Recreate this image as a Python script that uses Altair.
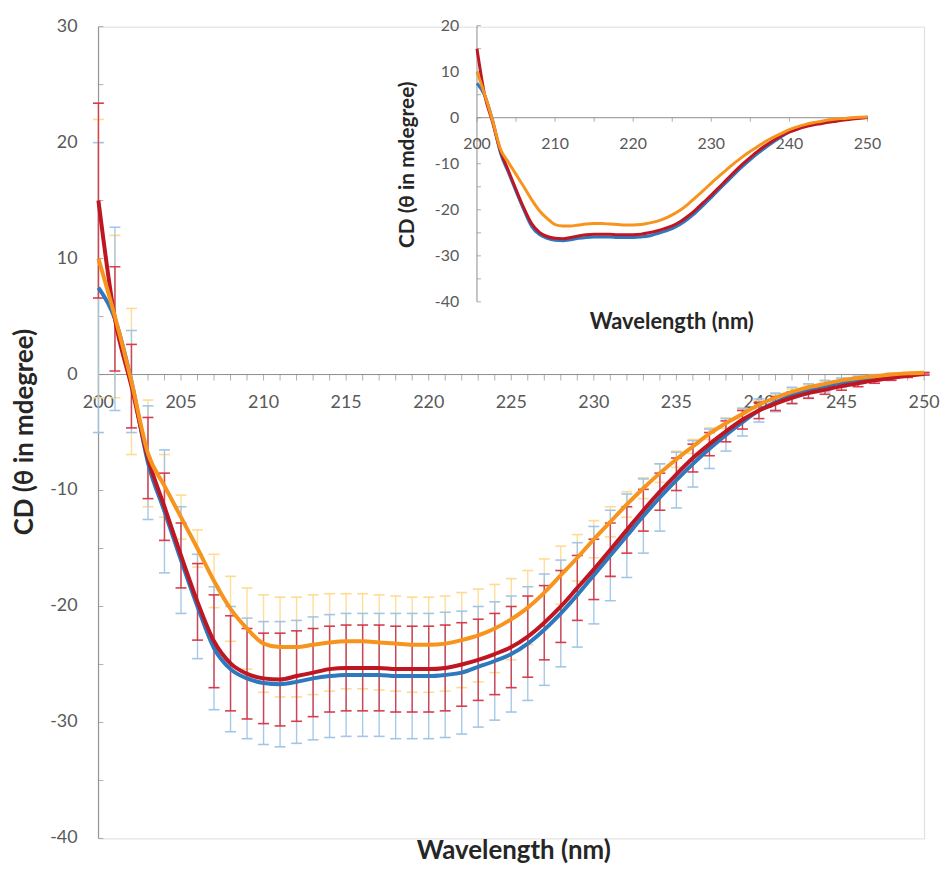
import altair as alt
import pandas as pd

# ---------------- data ----------------
wavelength = list(range(200, 251))

blue = [7.5, 4.8, -0.6, -7.6, -11.8, -16.0, -20.0, -23.6, -25.4, -26.2,
        -26.6, -26.7, -26.5, -26.2, -26.0, -25.9, -25.9, -25.9, -26.0, -26.0,
        -26.0, -25.9, -25.7, -25.2, -24.7, -24.1, -23.2, -22.0, -20.6, -19.0,
        -17.3, -15.6, -13.9, -12.2, -10.6, -9.1, -7.7, -6.4, -5.2, -4.1,
        -3.1, -2.4, -1.8, -1.4, -1.0, -0.7, -0.45, -0.25, -0.1, 0.0, 0.1]

red = [15.0, 4.8, -1.0, -7.2, -11.4, -15.6, -19.6, -23.0, -24.9, -25.8,
       -26.2, -26.3, -26.0, -25.7, -25.4, -25.3, -25.3, -25.3, -25.4, -25.4,
       -25.4, -25.3, -25.0, -24.6, -24.1, -23.5, -22.6, -21.4, -20.0, -18.4,
       -16.8, -15.1, -13.4, -11.7, -10.1, -8.6, -7.2, -6.0, -4.9, -3.9,
       -3.1, -2.5, -2.0, -1.6, -1.3, -1.0, -0.75, -0.5, -0.3, -0.1, 0.05]

orange = [10.0, 5.0, -0.6, -6.8, -9.6, -12.3, -15.0, -17.8, -20.2, -21.9,
          -23.2, -23.5, -23.5, -23.3, -23.1, -23.0, -23.0, -23.1, -23.2, -23.3,
          -23.3, -23.2, -22.9, -22.5, -21.9, -21.1, -20.1, -18.8, -17.3, -15.8,
          -14.2, -12.7, -11.2, -9.8, -8.5, -7.3, -6.2, -5.1, -4.2, -3.4,
          -2.6, -2.0, -1.5, -1.1, -0.8, -0.5, -0.3, -0.15, 0.0, 0.1, 0.15]

blue_sd = [12.5, 7.9, 4.4, 4.9, 5.3, 4.6, 4.5, 5.3, 5.4, 5.2,
           5.3, 5.4, 5.3, 5.3, 5.3, 5.3, 5.3, 5.3, 5.4, 5.4,
           5.4, 5.4, 5.3, 5.2, 5.1, 5.0, 4.9, 4.8, 4.6, 4.5,
           4.2, 3.9, 3.6, 3.2, 2.9, 2.4, 2.0, 1.7, 1.4, 1.2,
           1.0, 0.8, 0.7, 0.6, 0.5, 0.4, 0.3, 0.25, 0.2, 0.15, 0.1]

red_sd = [8.4, 4.5, 3.6, 3.5, 2.9, 2.8, 3.3, 4.0, 4.1, 3.9,
          3.9, 4.0, 3.9, 3.8, 3.7, 3.7, 3.7, 3.7, 3.7, 3.7,
          3.7, 3.7, 3.6, 3.5, 3.5, 3.5, 3.5, 3.2, 3.1, 2.8,
          2.6, 2.3, 2.0, 1.8, 1.6, 1.4, 1.2, 1.0, 0.9, 0.8,
          0.7, 0.6, 0.5, 0.45, 0.4, 0.35, 0.3, 0.25, 0.2, 0.15, 0.1]

orange_sd = [12.0, 7.0, 6.3, 4.6, 2.7, 1.9, 1.6, 2.3, 2.8, 3.5,
             4.2, 4.3, 4.3, 4.3, 4.2, 4.1, 4.1, 4.1, 4.1, 4.1,
             4.1, 4.1, 4.1, 4.0, 3.8, 3.5, 3.2, 2.9, 2.5, 2.0,
             1.6, 1.3, 1.1, 0.9, 0.8, 0.7, 0.6, 0.5, 0.45, 0.4,
             0.35, 0.3, 0.25, 0.2, 0.2, 0.15, 0.15, 0.1, 0.1, 0.1, 0.1]

series_names = ["blue", "red", "orange"]
series_values = {"blue": blue, "red": red, "orange": orange}
series_sd = {"blue": blue_sd, "red": red_sd, "orange": orange_sd}

main_x_ticks = list(range(200, 251))
main_x_labels = list(range(200, 251, 5))
main_y_ticks = list(range(-40, 31, 5))
main_y_labels = list(range(-40, 31, 10))
inset_x_ticks = list(range(200, 251, 5))
inset_x_labels = list(range(200, 251, 10))
inset_y_ticks = list(range(-40, 21, 5))
inset_y_labels = list(range(-40, 21, 10))

x_title = "Wavelength (nm)"
y_title = "CD (θ in mdegree)"

# ---------------- styling ----------------
LINE_COLORS = {"blue": "#2E78BE", "red": "#BE1622", "orange": "#F7941D"}
ERR_COLORS = {"blue": "#9DC3E6", "red": "#D83340", "orange": "#FFD98C"}
AXIS_GRAY = "#8C8C8C"
LABEL_GRAY = "#595959"
TITLE_COLOR = "#262626"
FONT = "Lato"

W, H = 831, 817
INSET_X = [381, 774]
INSET_Y = [277, -1]

rows = []
for s in series_names:
    for w, v, e in zip(wavelength, series_values[s], series_sd[s]):
        rows.append({"wl": w, "series": s, "cd": v, "lo": v - e, "hi": v + e})
df = pd.DataFrame(rows)


def axis_layers(xs, ys, x_ticks, x_labels, y_ticks, y_labels, xdom, ydom,
                xtick_len, ytick_len, font_size, x_dy, y_dx):
    X = lambda f: alt.X(f, scale=xs, axis=None)
    Y = lambda f: alt.Y(f, scale=ys, axis=None)
    dom = pd.DataFrame({"x": [xdom[0], xdom[0]], "x2": [xdom[1], xdom[0]],
                        "y": [0, ydom[0]], "y2": [0, ydom[1]]})
    xt = pd.DataFrame({"v": x_ticks, "zero": 0})
    yt = pd.DataFrame({"v": y_ticks, "left": xdom[0]})
    xl = pd.DataFrame({"v": x_labels, "zero": 0, "t": [str(v) for v in x_labels]})
    yl = pd.DataFrame({"v": y_labels, "left": xdom[0], "t": [str(v) for v in y_labels]})
    return [
        alt.Chart(dom).mark_rule(color=AXIS_GRAY, strokeWidth=1)
        .encode(x=X("x:Q"), x2="x2:Q", y=Y("y:Q"), y2="y2:Q"),
        alt.Chart(xt).mark_tick(orient="vertical", size=xtick_len, thickness=1,
                                color=AXIS_GRAY, yOffset=xtick_len / 2)
        .encode(x=X("v:Q"), y=Y("zero:Q")),
        alt.Chart(yt).mark_tick(orient="horizontal", size=ytick_len, thickness=1,
                                color=AXIS_GRAY, xOffset=ytick_len / 2)
        .encode(x=X("left:Q"), y=Y("v:Q")),
        alt.Chart(xl).mark_text(font=FONT, fontSize=font_size, color=LABEL_GRAY,
                                align="center", baseline="middle", dy=x_dy)
        .encode(x=X("v:Q"), y=Y("zero:Q"), text="t:N"),
        alt.Chart(yl).mark_text(font=FONT, fontSize=font_size, color=LABEL_GRAY,
                                align="right", baseline="middle", dx=y_dx)
        .encode(x=X("left:Q"), y=Y("v:Q"), text="t:N"),
    ]


def title_layer(text, px, py, size, angle=0):
    return alt.Chart(pd.DataFrame({"t": [text]})).mark_text(
        font=FONT, fontSize=size, fontWeight="bold", color=TITLE_COLOR,
        align="center", baseline="middle", angle=angle,
    ).encode(x=alt.value(px), y=alt.value(py), text="t:N")


# ---------------- main panel ----------------
xs_main = alt.Scale(domain=[200, 250], nice=False, zero=False)
ys_main = alt.Scale(domain=[-40, 30], nice=False, zero=False)
Xm = lambda f: alt.X(f, scale=xs_main, axis=None)
Ym = lambda f: alt.Y(f, scale=ys_main, axis=None)

base = alt.Chart(df)
main_layers = axis_layers(xs_main, ys_main, main_x_ticks, main_x_labels,
                          main_y_ticks, main_y_labels, [200, 250], [-40, 30],
                          6, 5, 18, 29, -21)
for s in ["orange", "blue", "red"]:
    src = base.transform_filter(alt.datum.series == s)
    main_layers.append(src.mark_rule(color=ERR_COLORS[s], strokeWidth=1.4, opacity=0.9)
                       .encode(x=Xm("wl:Q"), y=Ym("lo:Q"), y2="hi:Q"))
    for f in ["hi:Q", "lo:Q"]:
        main_layers.append(src.mark_tick(color=ERR_COLORS[s], orient="horizontal", size=11,
                                         thickness=1.6, opacity=0.95)
                           .encode(x=Xm("wl:Q"), y=Ym(f)))
for s in ["blue", "red", "orange"]:
    src = base.transform_filter(alt.datum.series == s)
    main_layers.append(src.mark_line(color=LINE_COLORS[s], strokeWidth=4, interpolate="monotone")
                       .encode(x=Xm("wl:Q"), y=Ym("cd:Q")))
main_layers.append(title_layer(x_title, 418, 830, 26))
main_layers.append(title_layer(y_title, -74, 408, 26, angle=270))
main = alt.layer(*main_layers)

# ---------------- inset ----------------
xs_in = alt.Scale(domain=[200, 250], range=INSET_X, nice=False, zero=False)
ys_in = alt.Scale(domain=[-40, 20], range=INSET_Y, nice=False, zero=False)
Xi = lambda f: alt.X(f, scale=xs_in, axis=None)
Yi = lambda f: alt.Y(f, scale=ys_in, axis=None)

inset_layers = axis_layers(xs_in, ys_in, inset_x_ticks, inset_x_labels,
                           inset_y_ticks, inset_y_labels, [200, 250], [-40, 20],
                           4, 4, 16, 26, -18)
for s in ["blue", "red", "orange"]:
    src = base.transform_filter(alt.datum.series == s)
    inset_layers.append(src.mark_line(color=LINE_COLORS[s], strokeWidth=3, interpolate="monotone")
                        .encode(x=Xi("wl:Q"), y=Yi("cd:Q")))
inset_layers.append(title_layer(x_title, 577, 297, 22))
inset_layers.append(title_layer(y_title, 312, 139, 21, angle=270))
inset = alt.layer(*inset_layers)

chart = (
    alt.layer(main, inset)
    .resolve_scale(x="independent", y="independent")
    .properties(width=W, height=H, autosize=alt.AutoSizeParams(type="none"),
                padding={"left": 91, "top": 16, "right": 16, "bottom": 26})
    .configure_view(strokeWidth=0)
    .configure(background="white")
)

chart.save("out.html", embed_options={"renderer": "svg", "actions": False})
